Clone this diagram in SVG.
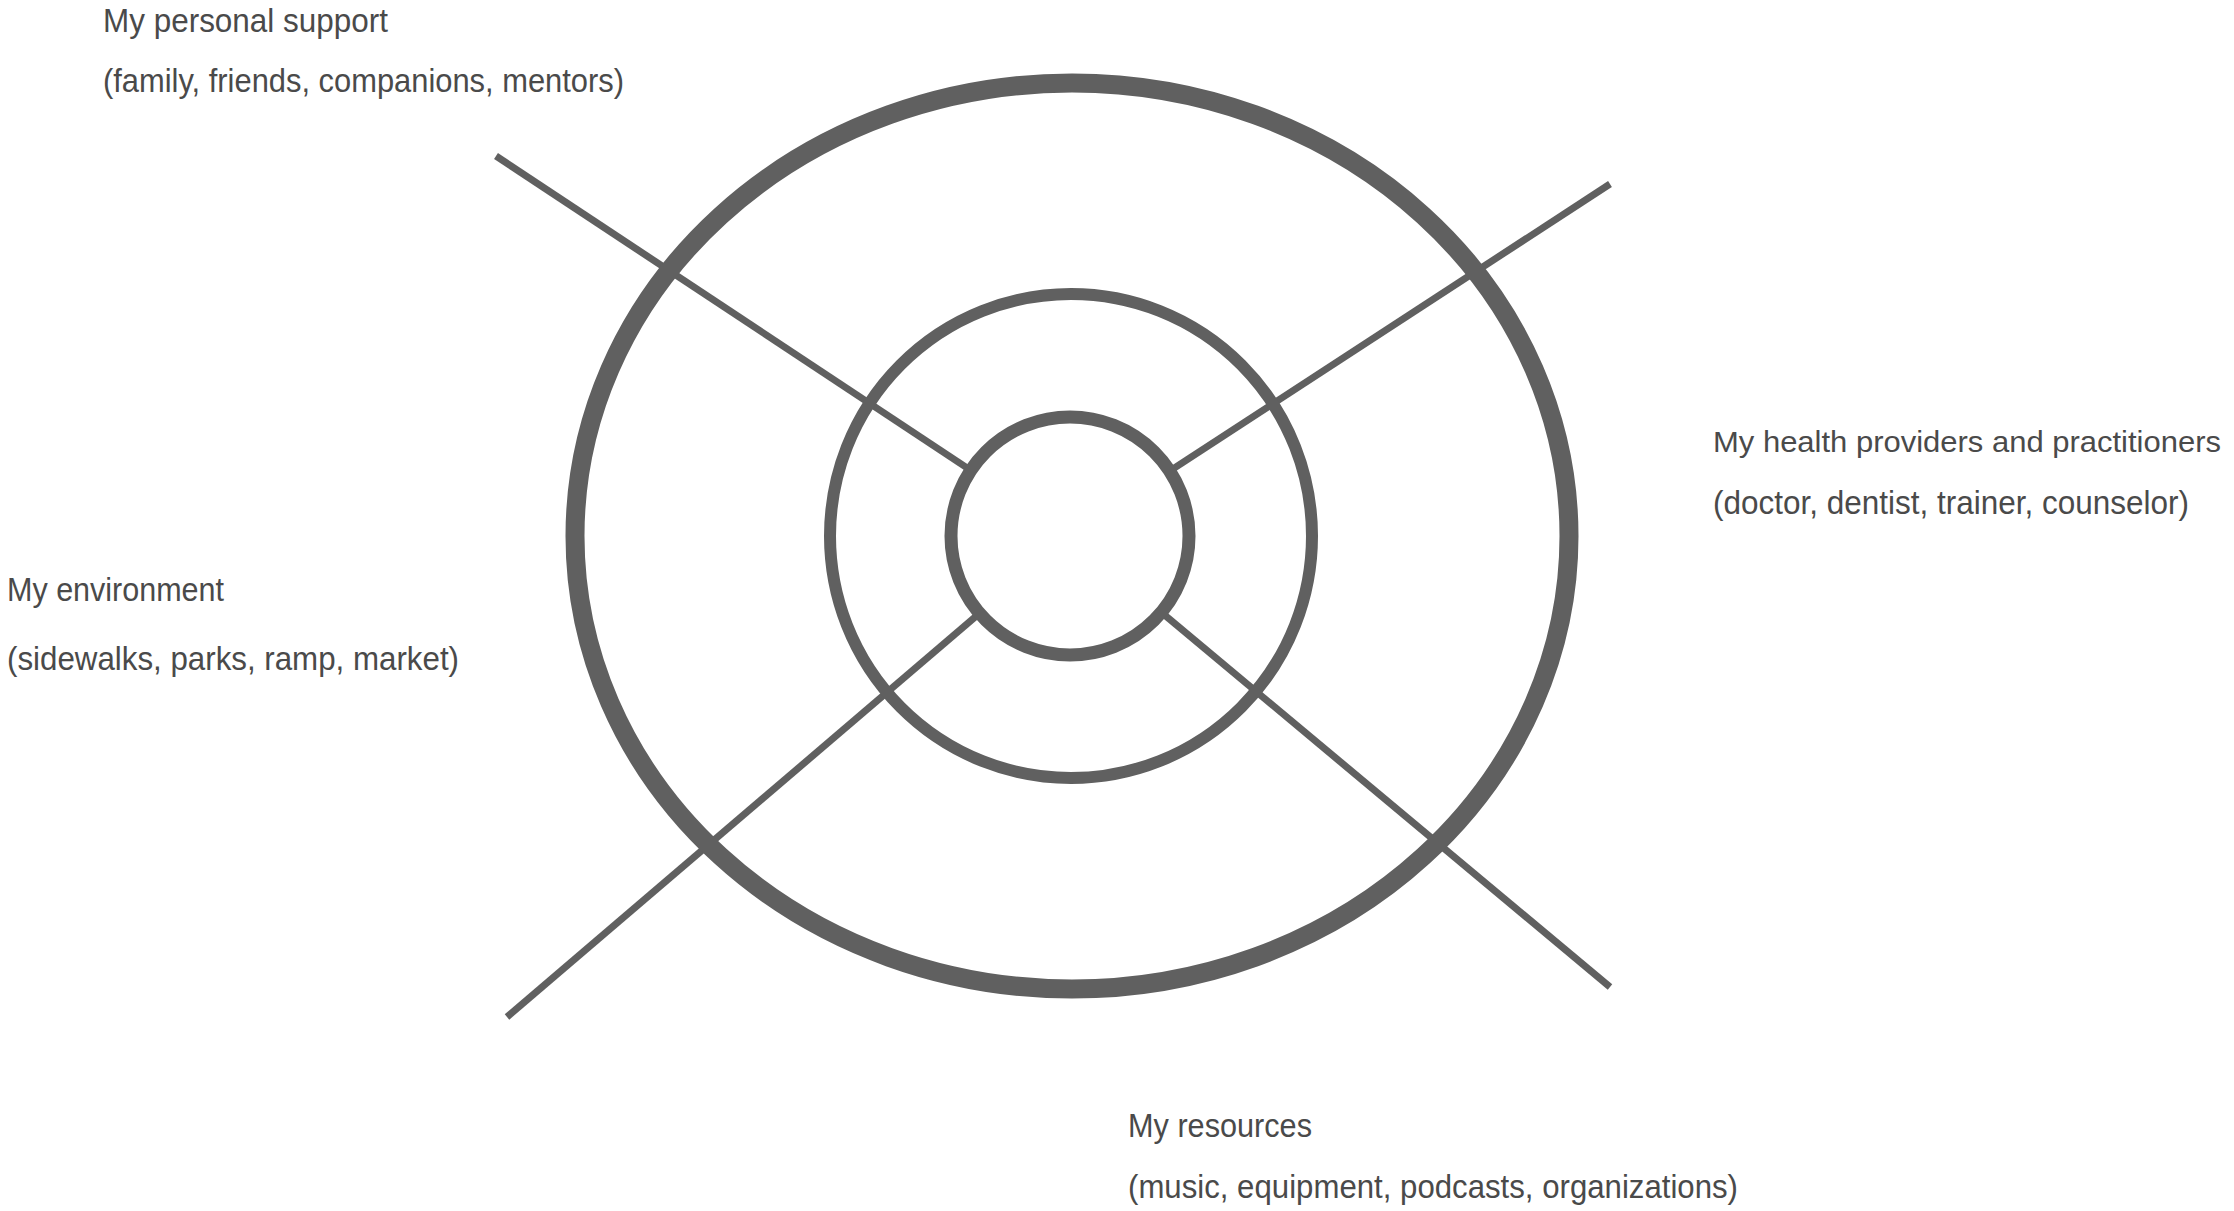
<svg xmlns="http://www.w3.org/2000/svg" width="2234" height="1211" viewBox="0 0 2234 1211">
<style>
.lbl{font-family:"Liberation Sans","DejaVu Sans",sans-serif;font-size:33px;fill:#4a4a4a}
.tight{font-size:29px}
.spoke{stroke:#606060;stroke-width:7;fill:none;stroke-linecap:butt}
.ring{stroke:#606060;fill:none}
</style>
<rect width="2234" height="1211" fill="#ffffff"/>
<g id="connectors">
<line class="spoke" x1="496" y1="156" x2="1070" y2="536"/>
<line class="spoke" x1="1610" y1="184" x2="1070" y2="536"/>
<line class="spoke" x1="507" y1="1017" x2="1070" y2="536"/>
<line class="spoke" x1="1610" y1="987" x2="1070" y2="536"/>
</g>
<g id="outer-ring"><ellipse class="ring" cx="1072" cy="536" rx="497" ry="453" stroke-width="19"/></g>
<g id="middle-ring"><ellipse class="ring" cx="1071" cy="536" rx="241" ry="242" stroke-width="12"/></g>
<g id="inner-ring"><circle cx="1070" cy="536" r="119" fill="#ffffff" stroke="#606060" stroke-width="13"/></g>
<g id="personal-support">
<text class="lbl" x="103" y="32" textLength="285" lengthAdjust="spacingAndGlyphs">My personal support</text>
<text class="lbl" x="103" y="92" textLength="521" lengthAdjust="spacingAndGlyphs">(family, friends, companions, mentors)</text>
</g>
<g id="health-providers">
<text class="lbl tight" x="1713" y="452" textLength="508" lengthAdjust="spacingAndGlyphs">My health providers and practitioners</text>
<text class="lbl" x="1713" y="514" textLength="476" lengthAdjust="spacingAndGlyphs">(doctor, dentist, trainer, counselor)</text>
</g>
<g id="environment">
<text class="lbl" x="7" y="601" textLength="217" lengthAdjust="spacingAndGlyphs">My environment</text>
<text class="lbl" x="7" y="670" textLength="452" lengthAdjust="spacingAndGlyphs">(sidewalks, parks, ramp, market)</text>
</g>
<g id="resources">
<text class="lbl" x="1128" y="1137" textLength="184" lengthAdjust="spacingAndGlyphs">My resources</text>
<text class="lbl" x="1128" y="1198" textLength="610" lengthAdjust="spacingAndGlyphs">(music, equipment, podcasts, organizations)</text>
</g>
</svg>
